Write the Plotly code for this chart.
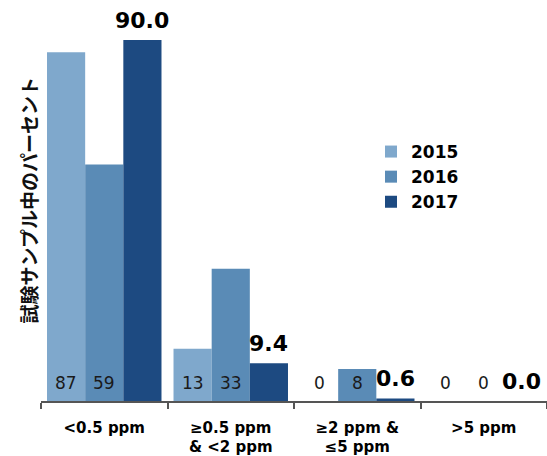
import plotly.graph_objects as go

# Concentration bands and share of samples per year (%)
categories = ["<0.5 ppm", "≥0.5 ppm<br>& <2 ppm", "≥2 ppm &<br>≤5 ppm", ">5 ppm"]
years = ["2015", "2016", "2017"]
v2015 = [87, 13, 0, 0]
v2016 = [59, 33, 8, 0]
v2017 = [90.0, 9.4, 0.6, 0.0]

colors = {"2015": "#7fa8cc", "2016": "#5a8bb6", "2017": "#1d4a81"}
BARGAP = 0.095

fig = go.Figure()
for name, vals in zip(years, (v2015, v2016, v2017)):
    fig.add_trace(go.Bar(name=name, x=categories, y=vals,
                         marker=dict(color=colors[name], line=dict(width=0))))

bar_w = (1 - BARGAP) / 3

# 2015 / 2016 values written near the base of each bar
for offset, vals in ((-bar_w, v2015), (0.0, v2016)):
    for i, v in enumerate(vals):
        fig.add_annotation(x=i + offset, y=0, xref="x", yref="y",
                           text=f"{v:g}", showarrow=False,
                           xanchor="center", yanchor="middle", yshift=18,
                           font=dict(family="DejaVu Sans", size=17, color="#1a1a1a"))

# 2017 values above the bars
for i, v in enumerate(v2017):
    fig.add_annotation(x=i + bar_w, y=v, xref="x", yref="y",
                       text=f"{v:.1f}", showarrow=False,
                       xanchor="center", yanchor="middle", yshift=20,
                       font=dict(family="DejaVu Sans", size=22, color="#000000",
                                 weight="bold"))

# Vertical y-axis title
fig.add_annotation(x=-13 / 506, y=0.5, xref="paper", yref="paper",
                   text="試験サンプル中のパーセント", textangle=-90,
                   showarrow=False, xanchor="center", yanchor="middle",
                   font=dict(family="Noto Sans CJK JP", size=19, color="#111111",
                             weight="bold"))

fig.update_layout(
    width=547, height=456,
    margin=dict(l=41, r=0, t=0, b=55),
    paper_bgcolor="white", plot_bgcolor="white",
    barmode="group", bargap=BARGAP, bargroupgap=0,
    showlegend=True,
    legend=dict(x=(371 - 41) / 506, y=1 - 134 / 401, xanchor="left", yanchor="top",
                font=dict(family="DejaVu Sans", size=17, color="#000000", weight="bold"),
                bgcolor="rgba(0,0,0,0)"),
    xaxis=dict(type="category", tickson="boundaries", ticks="outside",
               ticklen=6, tickwidth=1.5, tickcolor="#555555",
               showline=True, linecolor="#555555", linewidth=1.5,
               showgrid=False, ticklabelstandoff=12,
               tickfont=dict(family="DejaVu Sans", size=15, color="#000000",
                             weight="bold")),
    yaxis=dict(range=[0, 100], showticklabels=False, showgrid=False,
               zeroline=False, showline=False, ticks=""),
)

fig.write_html("out.html")
